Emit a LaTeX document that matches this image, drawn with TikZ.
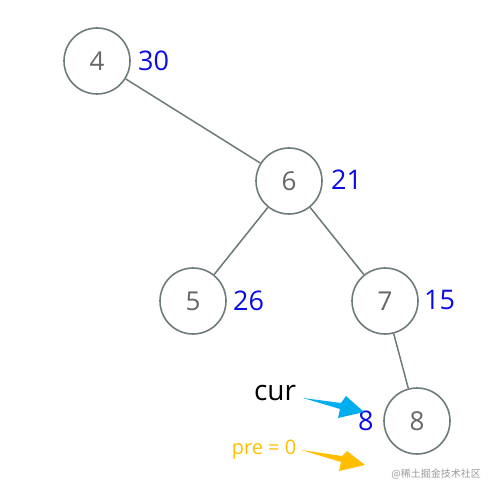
\documentclass[tikz,border=0pt]{standalone}
\usepackage{fontspec}
\setmainfont{Open Sans}
\newfontfamily\cjkfont{Noto Sans CJK SC}
\usetikzlibrary{positioning}
\definecolor{edgegray}{HTML}{6E7B7C}
\definecolor{valblue}{HTML}{0A0AE6}
\definecolor{curcyan}{HTML}{00AEEF}
\definecolor{preyellow}{HTML}{FFBF00}
\begin{document}
\begin{tikzpicture}[x=1pt,y=-1pt,
  tn/.style={circle,draw=edgegray,line width=1.6pt,minimum size=66pt,inner sep=0pt,font=\fontsize{26}{28}\selectfont,text=black!60},
  val/.style={font=\fontsize{27}{29}\selectfont,text=valblue,inner sep=0pt,anchor=west},
  e/.style={draw=edgegray,line width=1.5pt}]
\useasboundingbox (0,0) rectangle (493,494);
\node[tn] (T4) at (97,61) {4};
\node[tn] (T6) at (289,181) {6};
\node[tn] (T5) at (193,301) {5};
\node[tn] (T7) at (385,301) {7};
\node[tn] (T8) at (417,421) {8};
\node[val] (V4) at (138,61) {30};
\node[val] (V6) at (331,180) {21};
\node[val] (V5) at (233,301) {26};
\node[val] (V7) at (424,300) {15};
\node[val] (V8) at (358,421) {8};
\draw[e] (T4) -- (T6);
\draw[e] (T6) -- (T5);
\draw[e] (T6) -- (T7);
\draw[e] (T7) -- (T8);
% pointer labels
\node[font=\fontsize{28}{30}\selectfont,inner sep=0pt] (Cur) at (275,393) {cur};
\node[font=\fontsize{20}{22}\selectfont,text=preyellow,inner sep=0pt] (Pre) at (264,450) {pre = 0};
\fill[curcyan] (303,398) -- (341,403) -- (346,396) -- (364,412) -- (338,418) -- (340,409) -- cycle;
\fill[preyellow] (301,450) -- (342,456) -- (347,451) -- (365,465) -- (339,471) -- (341,462) -- cycle;
\node[font=\cjkfont\fontsize{10}{12}\selectfont,text=black!40,anchor=east,inner sep=0pt] (Mark) at (481,474) {@稀土掘金技术社区};
\end{tikzpicture}
\end{document}
